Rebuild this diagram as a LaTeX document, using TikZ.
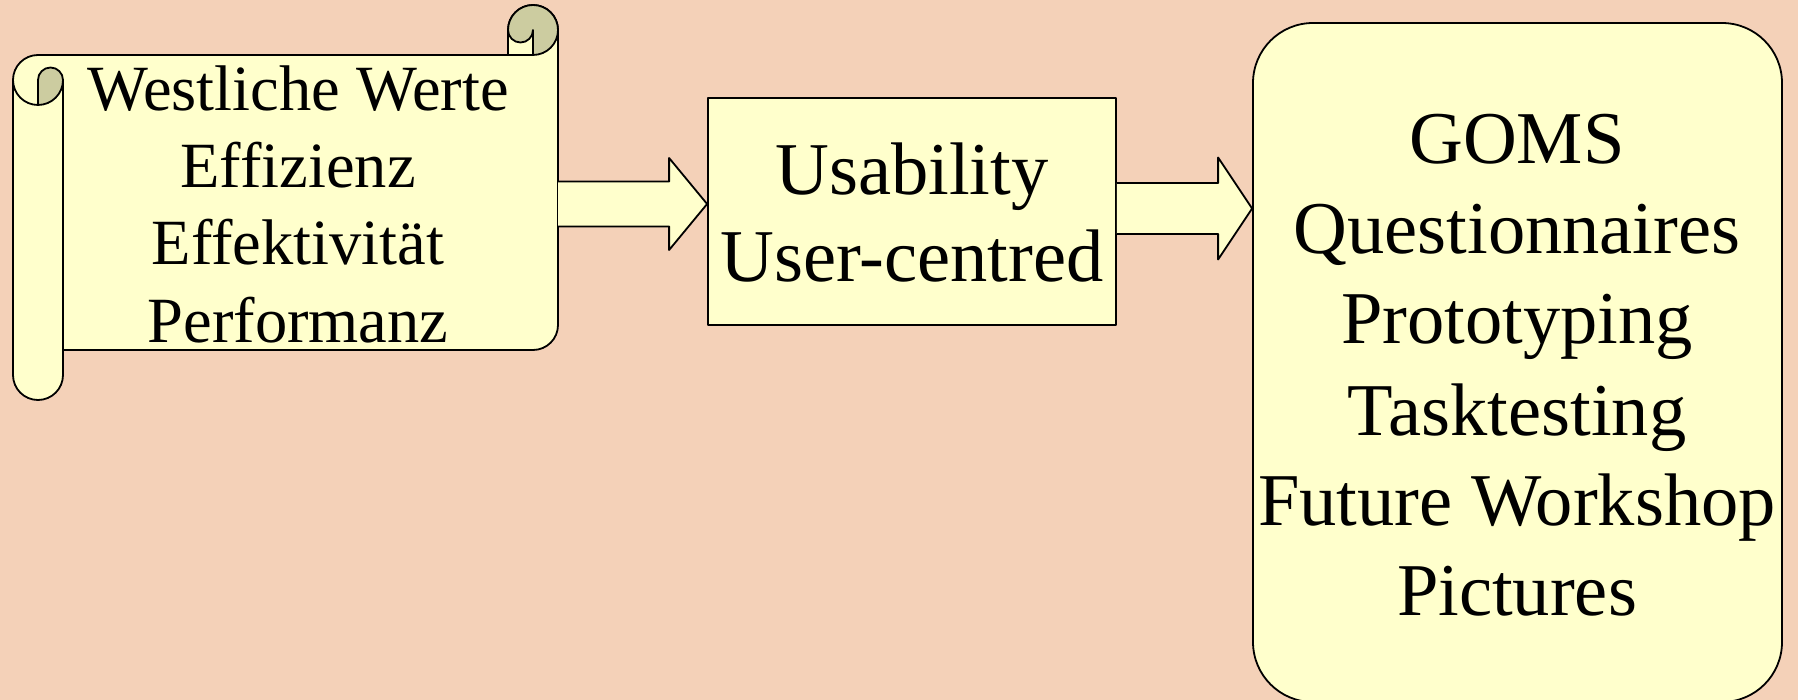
\documentclass[tikz,border=0pt]{standalone}
\usepackage{fontspec}
\setmainfont{Liberation Serif}
\usetikzlibrary{calc}
\definecolor{bgc}{RGB}{244,209,184}
\definecolor{paper}{RGB}{255,255,204}
\definecolor{curl}{RGB}{204,204,160}
\tikzset{
  outl/.style={draw=black, line width=1.8pt, line join=round},
  box/.style={outl, fill=paper, inner sep=0pt},
  barrow/.style={outl, fill=paper},
  curlfill/.style={outl, fill=curl},
  txtA/.style={anchor=base, inner sep=0pt, font=\fontsize{64.5}{70}\selectfont},
  txtB/.style={anchor=base, inner sep=0pt, font=\fontsize{74.5}{84}\selectfont},
}
\begin{document}
\begin{tikzpicture}[x=1pt,y=-1pt]
\useasboundingbox (0,0) rectangle (1798,700);
\fill[bgc] (0,0) rectangle (1798,700);
\begin{scope}
\clip (0,0) rectangle (1798,700);
% scroll
\begin{scope}[shift={(13,5)}]
\draw[outl, fill=paper] (50,345) -- (520,345) arc[start angle=90, delta angle=-90, radius=25]
  -- (545,25) arc[start angle=0, delta angle=-180, radius=25]
  -- (495,50) -- (25,50) arc[start angle=-90, delta angle=-90, radius=25]
  -- (0,370) arc[start angle=180, delta angle=-180, radius=25] -- cycle;
\draw[curlfill] (520,50) arc[start angle=90, delta angle=-270, radius=25]
  arc[start angle=180, delta angle=-180, radius=12.5] -- cycle;
\draw[curlfill] (25,100) arc[start angle=90, delta angle=-90, radius=25]
  arc[start angle=0, delta angle=-180, radius=12.5] -- cycle;
\draw[outl] (0,75) arc[start angle=180, delta angle=-90, radius=25];
\draw[outl] (50,75) -- (50,345);
\draw[outl] (495,50) -- (520,50);
\end{scope}
\coordinate (scrollR) at (558,204);
% boxes
\node[box, minimum width=408pt, minimum height=227pt] (usab) at (912,211.5) {};
\node[box, rounded corners=60pt, minimum width=529pt, minimum height=679pt] (meth) at (1517.5,362.5) {};
% arrows
\coordinate (a1from) at (scrollR);
\coordinate (a1to) at (usab.west |- scrollR);
\draw[barrow] ($(a1from)+(0,-22.5)$) -- ($(a1to)+(-38,-22.5)$) -- ($(a1to)+(-38,-46)$) -- (a1to)
  -- ($(a1to)+(-38,46)$) -- ($(a1to)+(-38,22.5)$) -- ($(a1from)+(0,22.5)$);
\coordinate (a2y) at (0,208.5);
\coordinate (a2from) at (usab.east |- a2y);
\coordinate (a2to) at (meth.west |- a2y);
\draw[barrow] ($(a2from)+(0,-25.5)$) -- ($(a2to)+(-34,-25.5)$) -- ($(a2to)+(-34,-51)$) -- (a2to)
  -- ($(a2to)+(-34,51)$) -- ($(a2to)+(-34,25.5)$) -- ($(a2from)+(0,25.5)$);
% texts
\node[txtA] (s1) at (298,111) {Westliche Werte};
\node[txtA] (s2) at (298,188) {Effizienz};
\node[txtA] (s3) at (298,265) {Effektivität};
\node[txtA] (s4) at (298,342) {Performanz};
\node[txtB] (u1) at (912,195) {Usability};
\node[txtB] (u2) at (912,282) {User-centred};
\node[txtB] (g1) at (1517,164) {GOMS};
\node[txtB] (g2) at (1517,254) {Questionnaires};
\node[txtB] (g3) at (1517,344) {Prototyping};
\node[txtB] (g4) at (1517,435) {Tasktesting};
\node[txtB] (g5) at (1517,525) {Future Workshop};
\node[txtB] (g6) at (1517,615) {Pictures};
\end{scope}
\end{tikzpicture}
\end{document}
